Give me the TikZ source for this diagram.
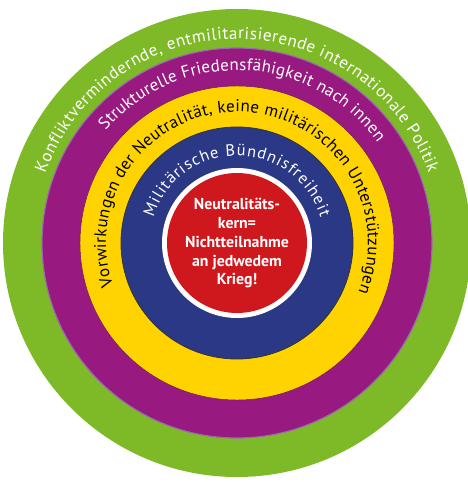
\documentclass[tikz,border=0pt]{standalone}
\usepackage{fontspec}
\setsansfont{PT Sans}
\usetikzlibrary{positioning,decorations.text}
\definecolor{ringgreen}{RGB}{126,186,40}
\definecolor{ringpurple}{RGB}{152,26,128}
\definecolor{ringedge}{RGB}{150,108,170}
\definecolor{ringyellow}{RGB}{255,211,0}
\definecolor{ringblue}{RGB}{42,56,134}
\definecolor{corered}{RGB}{206,24,30}

\begin{document}
\begin{tikzpicture}[font=\sffamily,
    ring/.style={circle, inner sep=0pt, minimum size=#1},
    ringtext/.style={decorate, decoration={text along path, text align={fit to path}, text={#1}}}]
    \useasboundingbox (-7.11,-7.17) rectangle (6.93,7.29);
    \node[ring=14.04cm, fill=ringgreen] (r1) at (0,0) {};
    \node[ring=11.7cm, fill=ringpurple, draw=ringedge, line width=1pt] (r2) at (r1.center) {};
    \node[ring=9.42cm, fill=ringyellow, draw=ringpurple!70!black, line width=0.4pt] (r3) at (r1.center) {};
    \node[ring=6.96cm, fill=ringblue, draw=black!80, line width=0.7pt] (r4) at (r1.center) {};
    \node[ring=4.5cm, fill=white] (r5) at (r1.center) {};
    \node[ring=4.2cm, fill=corered, text=white, align=center,
          font=\sffamily\bfseries\fontsize{13.5}{16.2}\selectfont] (kern) at (r1.center)
          {Neutralitäts-\\kern=\\Nichtteilnahme\\an jedwedem\\Krieg!};

    \path[ringtext={|\sffamily\fontsize{14.5}{16}\selectfont\color{white}|Konfliktvermindernde, entmilitarisierende internationale Politik}]
      (r1.center) ++(160:6.12) arc[start angle=160, end angle=20, radius=6.12];
    \path[ringtext={|\sffamily\fontsize{14.5}{16}\selectfont\color{white}|Strukturelle Friedensfähigkeit nach innen}]
      (r2.center) ++(139.5:5.18) arc[start angle=139.5, end angle=35.5, radius=5.18];
    \path[ringtext={|\sffamily\fontsize{14.5}{16}\selectfont\color{black}|Vorwirkungen der Neutralität, keine militärischen Unterstützungen}]
      (r3.center) ++(199:3.93) arc[start angle=199, end angle=-22, radius=3.93];
    \path[ringtext={|\sffamily\fontsize{14}{16}\selectfont\color{white}|Militärische Bündnisfreiheit}]
      (r4.center) ++(163:2.62) arc[start angle=163, end angle=17, radius=2.62];
\end{tikzpicture}
\end{document}
